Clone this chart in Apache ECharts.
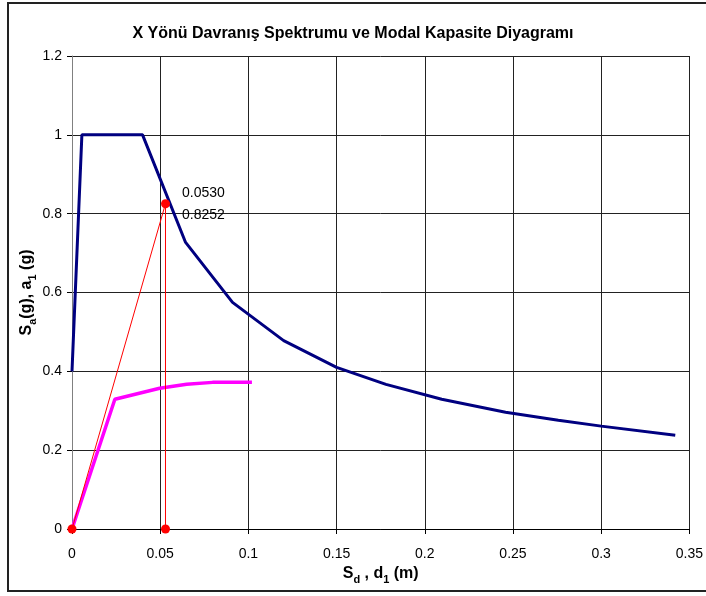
<!DOCTYPE html>
<html>
<head>
<meta charset="utf-8">
<script src="https://cdn.jsdelivr.net/npm/echarts@6/dist/echarts.min.js"></script>
<style>
html,body{margin:0;padding:0;background:#fff;}
#chart{width:706px;height:596px;}
</style>
</head>
<body>
<div id="chart"></div>
<script>
// Demand spectrum (Sd [m], Sa [g])
const spectrumSd = [0.0, 0.0056, 0.040, 0.0644, 0.091, 0.120, 0.150, 0.178, 0.2096, 0.2458, 0.2757, 0.300, 0.342];
const spectrumSa = [0.40, 1.00, 1.00, 0.727, 0.575, 0.478, 0.410, 0.367, 0.329, 0.296, 0.276, 0.261, 0.238];
// Modal capacity curve (d1 [m], a1 [g])
const capacityD = [0.0, 0.0243, 0.0497, 0.065, 0.0797, 0.102];
const capacityA = [0.0, 0.329, 0.357, 0.367, 0.372, 0.372];
// Performance point construction
const perfSd = [0.0, 0.0530, 0.0530];
const perfSa = [0.0, 0.8252, 0.0];
const perfLabel = ['0.0530', '0.8252'];
// Axis ticks
const xTicks = [0, 0.05, 0.1, 0.15, 0.2, 0.25, 0.3, 0.35];
const yTicks = [0, 0.2, 0.4, 0.6, 0.8, 1, 1.2];

const FONT = '"Liberation Sans", Arial, sans-serif';
const zip = (a, b) => a.map((v, i) => [v, b[i]]);

const chart = echarts.init(document.getElementById('chart'), null, {renderer: 'canvas'});
chart.setOption({
  backgroundColor: '#fff',
  animation: false,
  title: {
    text: 'X Yönü Davranış Spektrumu ve Modal Kapasite Diyagramı',
    left: 'center',
    top: 21,
    textStyle: {fontFamily: FONT, fontSize: 16, fontWeight: 'bold', color: '#000'}
  },
  graphic: [{
    type: 'rect',
    shape: {x: 8, y: 3, width: 720, height: 588},
    style: {fill: 'none', stroke: '#222', lineWidth: 2},
    silent: true, z: 100
  }],
  grid: {left: 72, right: 14, top: 56, bottom: 67, containLabel: false},
  xAxis: {
    type: 'value',
    min: xTicks[0], max: xTicks[xTicks.length - 1], interval: 0.05,
    name: '{b|S}{s|d}{b| , d}{s|1}{b| (m)}',
    nameLocation: 'middle',
    nameGap: 37,
    nameMoveOverlap: false,
    nameTextStyle: {
      color: '#000',
      rich: {
        b: {fontFamily: FONT, fontSize: 16, fontWeight: 'bold', lineHeight: 19, verticalAlign: 'top', color: '#000'},
        s: {fontFamily: FONT, fontSize: 11, fontWeight: 'bold', lineHeight: 11, padding: [11, 0, 0, 0], verticalAlign: 'bottom', color: '#000'}
      }
    },
    axisLine: {show: true, lineStyle: {color: '#000', width: 1}},
    axisTick: {show: true, inside: false, length: 5, lineStyle: {color: '#000'}},
    axisLabel: {fontFamily: FONT, fontSize: 14, color: '#000', margin: 18,
      formatter: v => String(parseFloat(v.toFixed(2)))},
    splitLine: {show: true, lineStyle: {color: '#222', width: 1}}
  },
  yAxis: {
    type: 'value',
    min: yTicks[0], max: yTicks[yTicks.length - 1], interval: 0.2,
    name: '{b|S}{s|a}{b|(g), a}{s|1}{b| (g)}',
    nameLocation: 'middle',
    nameRotate: 90,
    nameGap: 34,
    nameMoveOverlap: false,
    nameTextStyle: {
      color: '#000',
      rich: {
        b: {fontFamily: FONT, fontSize: 16, fontWeight: 'bold', lineHeight: 19, verticalAlign: 'top', color: '#000'},
        s: {fontFamily: FONT, fontSize: 11, fontWeight: 'bold', lineHeight: 11, padding: [11, 0, 0, 0], verticalAlign: 'bottom', color: '#000'}
      }
    },
    axisLine: {show: true, lineStyle: {color: '#808080', width: 1}},
    axisTick: {show: true, inside: false, length: 5, lineStyle: {color: '#000'}},
    axisLabel: {fontFamily: FONT, fontSize: 14, color: '#000', margin: 10,
      formatter: v => String(parseFloat(v.toFixed(2)))},
    splitLine: {show: true, lineStyle: {color: '#222', width: 1}}
  },
  series: [
    {
      type: 'line', name: 'Spektrum',
      data: zip(spectrumSd, spectrumSa),
      showSymbol: false, symbol: 'none',
      lineStyle: {color: '#000080', width: 3},
      itemStyle: {color: '#000080'},
      z: 3
    },
    {
      type: 'line', name: 'Kapasite',
      data: zip(capacityD, capacityA),
      showSymbol: false, symbol: 'none',
      lineStyle: {color: '#FF00FF', width: 3.5},
      itemStyle: {color: '#FF00FF'},
      z: 4
    },
    {
      type: 'line', name: 'Performans',
      data: perfSd.map((x, i) => {
        const item = {value: [x, perfSa[i]]};
        if (i === 1) {
          item.label = {
            show: true, position: 'right', distance: 12,
            formatter: perfLabel.join('\n'),
            fontFamily: FONT, fontSize: 14, lineHeight: 22, color: '#000'
          };
        }
        return item;
      }),
      symbol: 'circle', symbolSize: 9, showAllSymbol: true,
      lineStyle: {color: '#FF0000', width: 1},
      itemStyle: {color: '#FF0000'},
      z: 5
    }
  ]
});
</script>
</body>
</html>
